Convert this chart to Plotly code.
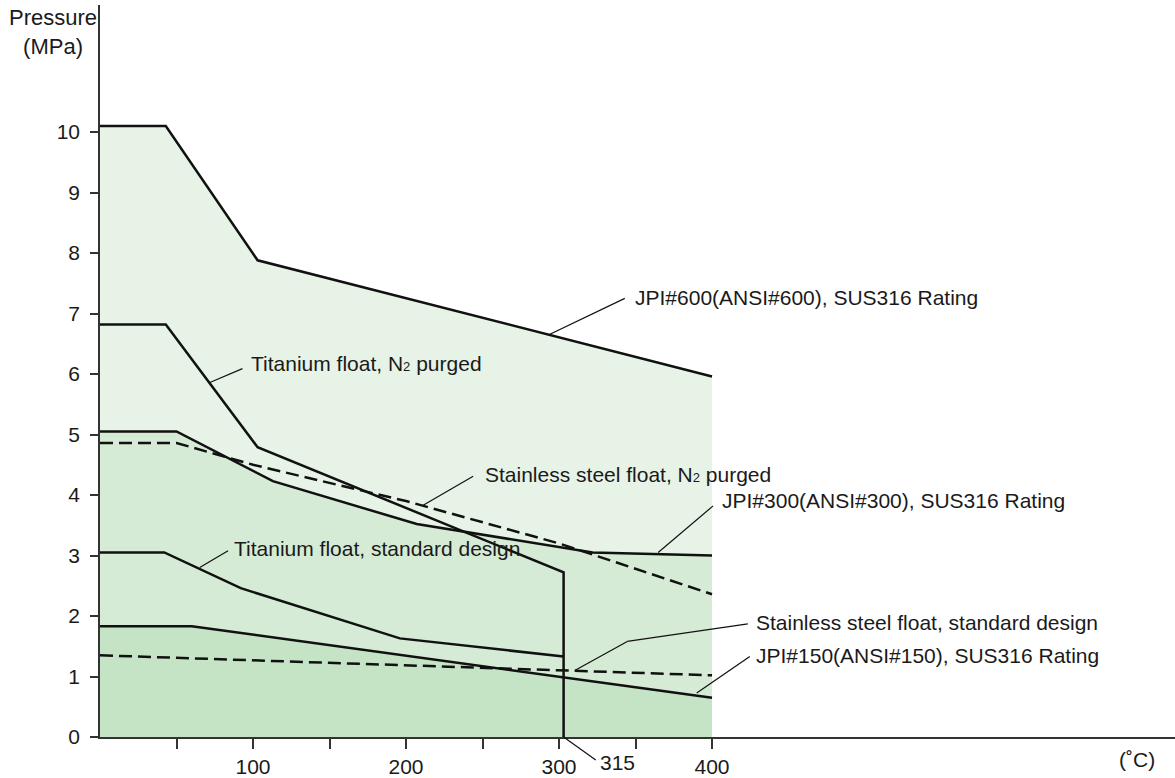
import plotly.graph_objects as go

# ---------------- data (temperature °C, pressure MPa) ----------------
jpi600_x = [0, 43, 103, 400]
jpi600_y = [10.1, 10.1, 7.88, 5.96]

jpi300_x = [0, 50, 113, 207, 322, 400]
jpi300_y = [5.05, 5.05, 4.23, 3.52, 3.05, 3.0]

jpi150_x = [0, 60, 400]
jpi150_y = [1.83, 1.83, 0.65]

ti_n2_x = [0, 43, 103, 303, 303]
ti_n2_y = [6.82, 6.82, 4.79, 2.72, 0]

ti_std_x = [0, 42, 92, 196, 303]
ti_std_y = [3.05, 3.05, 2.46, 1.63, 1.33]

ss_n2_x = [0, 50, 100, 200, 300, 400]
ss_n2_y = [4.86, 4.86, 4.50, 3.90, 3.20, 2.36]

ss_std_x = [0, 400]
ss_std_y = [1.35, 1.02]

x_tick_vals = [50, 100, 150, 200, 250, 300, 350, 400]
x_tick_text = ["", "100", "", "200", "", "300", "", "400"]
y_tick_vals = [0, 1, 2, 3, 4, 5, 6, 7, 8, 9, 10]

FONT = "Liberation Sans, Arial, Helvetica, sans-serif"
TXT = "#1a1a1a"
FS = 21

fig = go.Figure()

# fills
for xs, ys, col in [(jpi600_x, jpi600_y, "#e7f3e7"),
                    (jpi300_x, jpi300_y, "#d5ebd5"),
                    (jpi150_x, jpi150_y, "#c5e3c5")]:
    fig.add_trace(go.Scatter(x=xs, y=ys, mode="lines", fill="tozeroy",
                             fillcolor=col, line=dict(width=0, color=col),
                             hoverinfo="skip", showlegend=False))

# lines
solid = dict(color="#111111", width=2.5)
dashed = dict(color="#111111", width=2.5, dash="13px,6px")
for xs, ys, ln in [(jpi600_x, jpi600_y, solid), (jpi300_x, jpi300_y, solid),
                   (jpi150_x, jpi150_y, solid), (ti_n2_x, ti_n2_y, solid),
                   (ti_std_x, ti_std_y, solid), (ss_n2_x, ss_n2_y, dashed),
                   (ss_std_x, ss_std_y, dashed)]:
    fig.add_trace(go.Scatter(x=xs, y=ys, mode="lines", line=ln,
                             showlegend=False, hoverinfo="skip"))

# labels with leader lines (data coords)
labels = [
    ("JPI#600(ANSI#600), SUS316 Rating", 348.2, 7.27, [(292.7, 6.64), (343, 7.25)]),
    ("Titanium float, N<span style='font-size:13px'>2</span> purged", 97.5, 6.17, [(71.8, 5.86), (93.1, 6.09)]),
    ("Stainless steel float, N<span style='font-size:13px'>2</span> purged", 250.2, 4.34, [(211.2, 3.83), (243.9, 4.31)]),
    ("JPI#300(ANSI#300), SUS316 Rating", 405.0, 3.91, [(364.8, 3.05), (400.7, 3.82)]),
    ("Titanium float, standard design", 86.0, 3.12, [(65.2, 2.80), (83.7, 3.08)]),
    ("Stainless steel float, standard design", 427.3, 1.90, [(310.3, 1.10), (344.6, 1.58), (423.4, 1.87)]),
    ("JPI#150(ANSI#150), SUS316 Rating", 427.3, 1.35, [(390.0, 0.727), (424.7, 1.33)]),
]
shapes = []
annotations = []
for text, tx, ty, pts in labels:
    annotations.append(dict(x=tx, y=ty, xref="x", yref="y", text=text,
                            showarrow=False, xanchor="left", yanchor="middle",
                            font=dict(family=FONT, size=FS, color=TXT)))
    for (x0, y0), (x1, y1) in zip(pts[:-1], pts[1:]):
        shapes.append(dict(type="line", xref="x", yref="y", x0=x0, y0=y0,
                           x1=x1, y1=y1, line=dict(color="#111111", width=1.2)))

# 315 label below axis with leader
shapes.append(dict(type="line", xref="x", yref="paper", x0=303, y0=0,
                   x1=324, y1=-0.0314, line=dict(color="#111111", width=1.2)))
annotations.append(dict(x=338.4, y=-0.0342, xref="x", yref="paper", text="315",
                        showarrow=False, xanchor="center", yanchor="middle",
                        font=dict(family=FONT, size=FS, color=TXT)))
# axis titles
annotations.append(dict(x=-0.0437, y=1.0, xref="paper", yref="paper",
                        text="Pressure<br>(MPa)", showarrow=False,
                        xanchor="center", yanchor="top", align="center",
                        yshift=2,
                        font=dict(family=FONT, size=22, color=TXT)))
annotations.append(dict(x=0.9647, y=-0.0314, xref="paper", yref="paper",
                        text="(˚C)", showarrow=False, xanchor="center",
                        yanchor="middle",
                        font=dict(family=FONT, size=FS, color=TXT)))

fig.update_layout(
    width=1175, height=778, autosize=False,
    margin=dict(l=100, r=0, t=5, b=41, autoexpand=False),
    paper_bgcolor="white", plot_bgcolor="white",
    shapes=shapes, annotations=annotations,
    font=dict(family=FONT, size=FS, color=TXT),
    xaxis=dict(range=[0, 702.6], showgrid=False, zeroline=False,
               showline=True, linecolor="#333333", linewidth=1.5,
               ticks="outside", ticklen=10, tickwidth=1.5, tickcolor="#333333",
               tickvals=x_tick_vals, ticktext=x_tick_text,
               automargin=False,
               tickfont=dict(family=FONT, size=FS, color=TXT)),
    yaxis=dict(range=[0, 12.1], showgrid=False, zeroline=False,
               showline=True, linecolor="#333333", linewidth=1.5,
               ticks="outside", ticklen=8, tickwidth=1.5, tickcolor="#333333",
               tickvals=y_tick_vals, ticklabelstandoff=6, automargin=False,
               tickfont=dict(family=FONT, size=FS, color=TXT)),
)

fig.write_html(
    "out.html",
    config={"displayModeBar": False},
    post_script="document.body.style.margin='0';document.body.style.overflow='hidden';",
)
